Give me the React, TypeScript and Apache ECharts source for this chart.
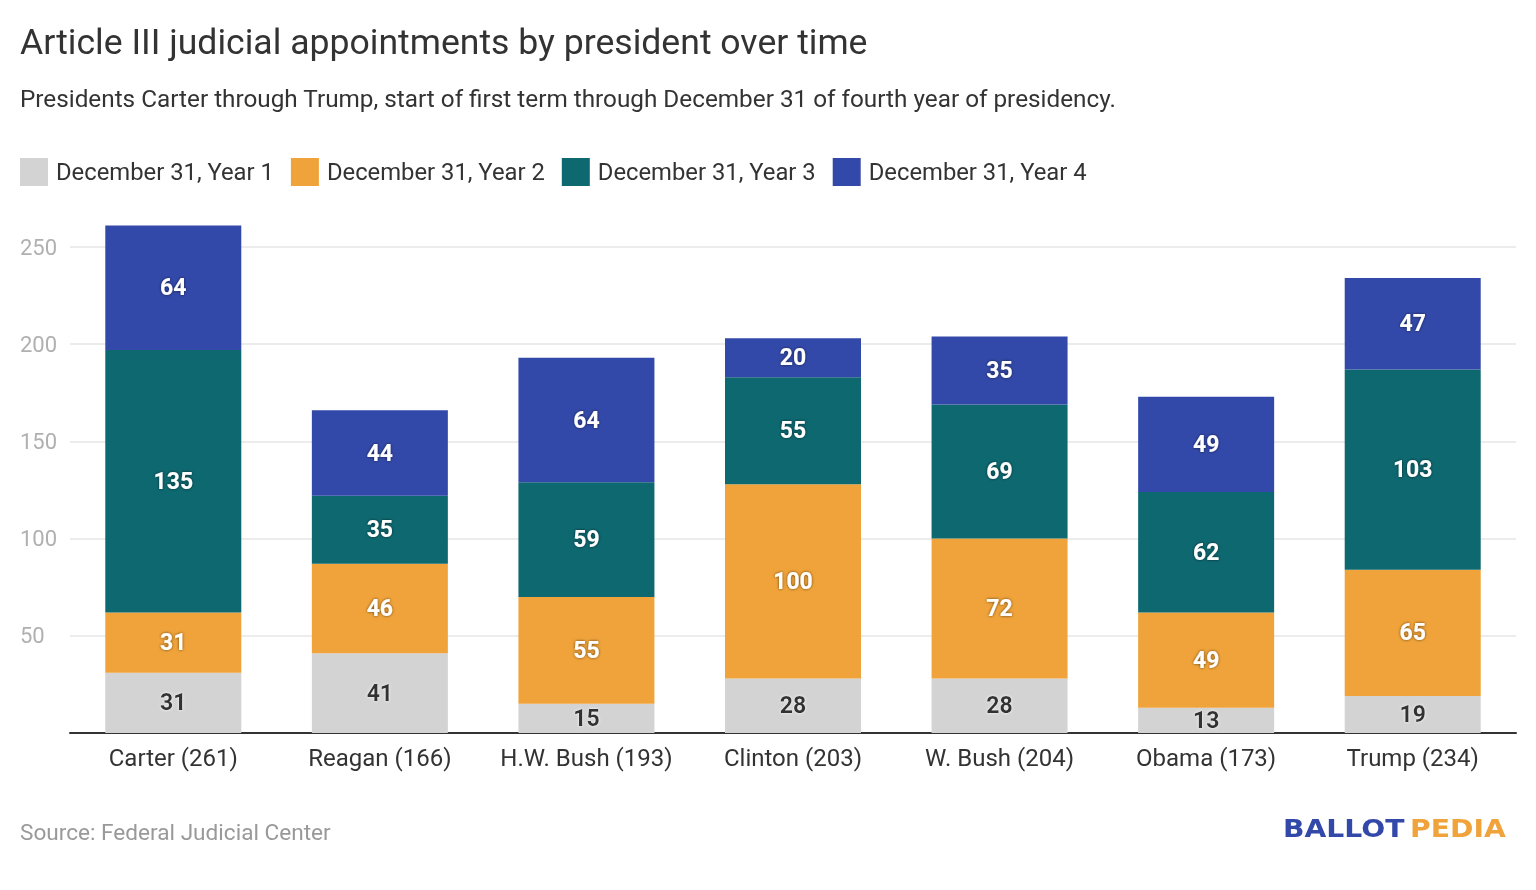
import React, { useEffect, useRef } from "react";
import * as echarts from "echarts";

const categories = ["Carter (261)", "Reagan (166)", "H.W. Bush (193)", "Clinton (203)", "W. Bush (204)", "Obama (173)", "Trump (234)"];
const seriesNames = ["December 31, Year 1", "December 31, Year 2", "December 31, Year 3", "December 31, Year 4"];
const year1 = [31, 41, 15, 28, 28, 13, 19];
const year2 = [31, 46, 55, 100, 72, 49, 65];
const year3 = [135, 35, 59, 55, 69, 62, 103];
const year4 = [64, 44, 64, 20, 35, 49, 47];
const colors = ["#d3d3d3", "#f0a33a", "#0e6870", "#3349a9"];

export default function App() {
  const ref = useRef<HTMLDivElement>(null);
  useEffect(() => {
    if (!ref.current) return;
    const chart = echarts.init(ref.current, null, { renderer: "svg" });
    const data = [year1, year2, year3, year4];
    const font = "Roboto";
    chart.setOption({
      animation: false,
      textStyle: { fontFamily: font },
      title: [
        {
          text: "Article III judicial appointments by president over time",
          left: 15,
          top: 19,
          textStyle: { fontSize: 35.6, fontWeight: "normal", color: "#333", fontFamily: font },
        },
        {
          text: "Presidents Carter through Trump, start of first term through December 31 of fourth year of presidency.",
          left: 15,
          top: 81,
          textStyle: { fontSize: 24.3, fontWeight: "normal", color: "#333", fontFamily: font },
        },
        {
          text: "Source: Federal Judicial Center",
          left: 15,
          top: 816,
          textStyle: { fontSize: 22.6, fontWeight: "normal", color: "#999", fontFamily: font },
        },
      ],
      legend: {
        left: 15,
        top: 153,
        itemWidth: 28,
        itemHeight: 28,
        itemGap: 17,
        icon: "rect",
        data: seriesNames,
        textStyle: { fontSize: 23.8, color: "#333", fontFamily: font, padding: [0, 0, 0, 3] },
      },
      grid: { left: 70, right: 20, top: 247, bottom: 157 },
      xAxis: {
        type: "category",
        data: categories,
        axisLine: { lineStyle: { color: "#333", width: 2 } },
        axisTick: { show: false },
        axisLabel: { fontSize: 24, color: "#333", margin: 13, fontFamily: font, interval: 0, hideOverlap: false },
      },
      yAxis: {
        type: "value",
        min: 0,
        max: 250,
        interval: 50,
        axisLine: { show: false },
        axisTick: { show: false },
        splitLine: { lineStyle: { color: "#e6e6e6", width: 1.5 } },
        axisLabel: {
          fontSize: 22,
          color: "#b0b0b0",
          align: "left",
          margin: 50,
          showMinLabel: false,
          fontFamily: font,
        },
      },
      graphic: [
        {
          type: "text",
          x: 1283,
          y: 816,
          scaleX: 1.13,
          style: { text: "BALLOT", fontSize: 25, fontWeight: "bold", fontFamily: "DejaVu Sans", fill: "#3349a9" },
        },
        {
          type: "text",
          x: 1410,
          y: 816,
          scaleX: 1.13,
          style: { text: "PEDIA", fontSize: 25, fontWeight: "bold", fontFamily: "DejaVu Sans", fill: "#f0a33a" },
        },
      ],
      series: seriesNames.map((name, i) => ({
        name,
        type: "bar",
        stack: "total",
        barWidth: 136,
        clip: false,
        data: data[i],
        itemStyle: { color: colors[i] },
        label: {
          show: true,
          position: "inside",
          fontSize: 23,
          fontWeight: "bold",
          fontFamily: font,
          color: i === 0 ? "#333" : "#fff",
          textShadowColor: i === 0 ? "rgba(255,255,255,0.9)" : "rgba(0,0,0,0.6)",
          textShadowBlur: 3,
        },
      })),
    });
    return () => chart.dispose();
  }, []);
  return <div ref={ref} style={{ position: "fixed", left: 0, top: 0, width: 1536, height: 890 }} />;
}
